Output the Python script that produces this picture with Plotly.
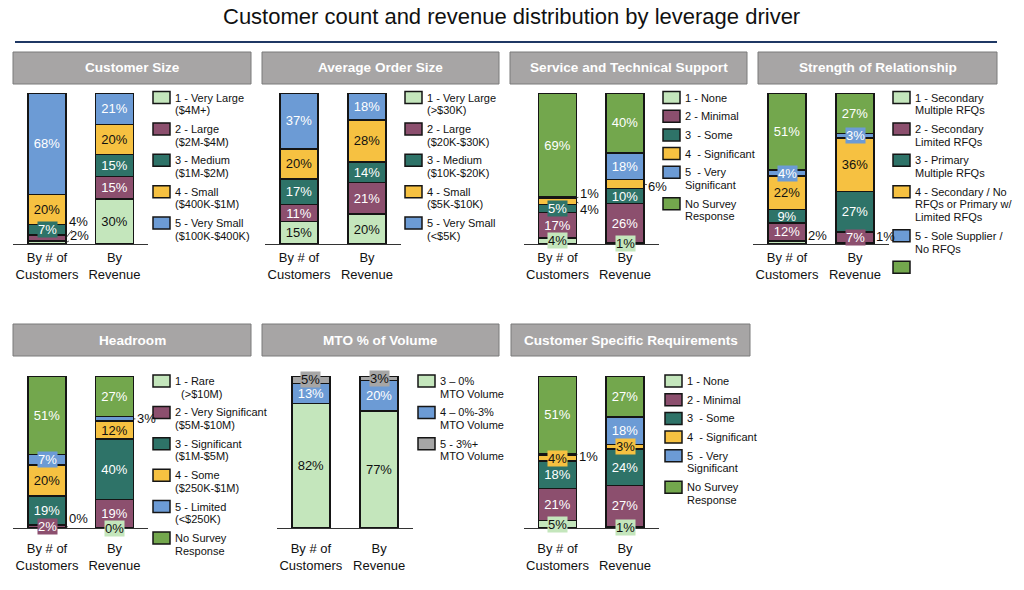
import plotly.graph_objects as go

# ---- data ----
bar_names = ["By # of<br>Customers", "By<br>Revenue"]

size_labels = ["1 - Very Large<br>($4M+)", "2 - Large<br>($2M-$4M)", "3 - Medium<br>($1M-$2M)",
               "4 - Small<br>($400K-$1M)", "5 - Very Small<br>($100K-$400K)"]
size_customers = [2, 4, 7, 20, 68]
size_revenue = [30, 15, 15, 20, 21]

order_labels = ["1 - Very Large<br>(&gt;$30K)", "2 - Large<br>($20K-$30K)", "3 - Medium<br>($10K-$20K)",
                "4 - Small<br>($5K-$10K)", "5 - Very Small<br>(&lt;$5K)"]
order_customers = [15, 11, 17, 20, 37]
order_revenue = [20, 21, 14, 28, 18]

service_labels = ["1 - None", "2 - Minimal", "3 \u00a0- Some", "4 \u00a0- Significant",
                  "5 \u00a0- Very<br>Significant", "No Survey<br>Response"]
service_customers = [4, 17, 5, 4, 1, 69]
service_revenue = [1, 26, 10, 6, 18, 40]

relation_labels = ["1 - Secondary<br>Multiple RFQs", "2 - Secondary<br>Limited RFQs",
                   "3 - Primary<br>Multiple RFQs", "4 - Secondary / No<br>RFQs or Primary w/<br>Limited RFQs",
                   "5 - Sole Supplier /<br>No RFQs", ""]
relation_customers = [2, 12, 9, 22, 4, 51]
relation_revenue = [1, 7, 27, 36, 3, 27]

headroom_labels = ["1 - Rare<br>\u00a0\u00a0(&gt;$10M)", "2 - Very Significant<br>($5M-$10M)",
                   "3 - Significant<br>($1M-$5M)", "4 - Some<br>($250K-$1M)",
                   "5 - Limited<br>(&lt;$250K)", "No Survey<br>Response"]
headroom_customers = [0, 2, 19, 20, 7, 51]
headroom_revenue = [0, 19, 40, 12, 3, 27]

mto_labels = ["3 \u2013 0%<br>MTO Volume", "4 \u2013 0%-3%<br>MTO Volume", "5 - 3%+<br>MTO Volume"]
mto_customers = [82, 13, 5]
mto_revenue = [77, 20, 3]

csr_labels = ["1 - None", "2 - Minimal", "3 \u00a0- Some", "4 \u00a0- Significant",
              "5 \u00a0- Very<br>Significant", "No Survey<br>Response"]
csr_customers = [5, 21, 18, 4, 1, 51]
csr_revenue = [1, 27, 24, 3, 18, 27]

# ---- style ----
W, H = 1024, 590
OFF = 8  # page body margin in the browser
FONT = "Arial, Liberation Sans, sans-serif"
LG, PU, TE, YE, BL, GR, GY = "#C4E6BC", "#8C4F6E", "#2E7368", "#F6C141", "#6C9BD5", "#73A74D", "#A6A6A6"
DARK_TEXT = {LG, YE, GY}
six = [LG, PU, TE, YE, BL, GR]

rows = [dict(head=(52, 84), bars=(93, 244), leg=97.5, tick=1),
        dict(head=(324, 356), bars=(376, 528), leg=381, tick=8)]

panels = [
    dict(title="Customer Size", labels=size_labels, cust=size_customers, rev=size_revenue,
         colors=six[:5], row=0, dom=(13.25, 148.25), head=(13, 251), leg=153),
    dict(title="Average Order Size", labels=order_labels, cust=order_customers, rev=order_revenue,
         colors=six[:5], row=0, dom=(265, 401), head=(262, 499), leg=405),
    dict(title="Service and Technical Support", labels=service_labels, cust=service_customers,
         rev=service_revenue, colors=six, row=0, dom=(523.75, 658.75), head=(510, 747), leg=663),
    dict(title="Strength of Relationship", labels=relation_labels, cust=relation_customers,
         rev=relation_revenue, colors=six, row=0, dom=(753, 889), head=(758, 997), leg=893),
    dict(title="Headroom", labels=headroom_labels, cust=headroom_customers, rev=headroom_revenue,
         colors=six, row=1, dom=(13.25, 148.25), head=(13, 251), leg=153),
    dict(title="MTO % of Volume", labels=mto_labels, cust=mto_customers, rev=mto_revenue,
         colors=[LG, BL, GY], row=1, dom=(276.75, 413.25), head=(262, 499), leg=418),
    dict(title="Customer Specific Requirements", labels=csr_labels, cust=csr_customers,
         rev=csr_revenue, colors=six, row=1, dom=(523.75, 658.75), head=(511, 750), leg=665),
]

# small segments: boxed label or label outside with a leader (pixel offsets)
special = {
    (1, 0, 0): (14, -7), (1, 0, 1): (13, -17), (1, 0, 2): "box",
    (3, 0, 0): "box", (3, 0, 2): "box", (3, 0, 3): (13, 8), (3, 0, 4): (13, -4),
    (3, 1, 0): "box", (3, 1, 3): (14, 2),
    (4, 0, 0): (11, -7), (4, 0, 4): "box", (4, 1, 0): (11, -7), (4, 1, 1): "box", (4, 1, 4): "box",
    (5, 0, 0): (13, -10), (5, 0, 1): "box", (5, 0, 4): "box", (5, 1, 0): "box", (5, 1, 4): (13, 0),
    (6, 0, 2): "box", (6, 1, 2): "box",
    (7, 0, 0): "box", (7, 0, 3): "box", (7, 0, 4): (12, 2), (7, 1, 0): "box", (7, 1, 3): "box",
}

fig = go.Figure()
shapes, annos = [], []


def px(x):
    return (x - OFF) / W


def py(y):
    return 1 - (y - OFF) / H


for k, p in enumerate(panels, start=1):
    xa, ya = f"x{k}", f"y{k}"
    r = rows[p["row"]]
    top, bot = r["bars"]
    fig.update_layout({
        f"xaxis{k}": dict(domain=[px(p["dom"][0]), px(p["dom"][1])], anchor=ya, type="category",
                          range=[-0.5, 1.5], showline=True, linecolor="#333333", linewidth=1,
                          ticks="outside", ticklen=r["tick"], tickcolor="rgba(0,0,0,0)", showgrid=False,
                          zeroline=False, fixedrange=True,
                          tickfont=dict(family=FONT, size=13, color="#111111")),
        f"yaxis{k}": dict(domain=[py(bot), py(top)], anchor=xa, range=[0, 100], visible=False,
                          fixedrange=True),
    })
    vals = [p["cust"], p["rev"]]
    totals = [sum(v) for v in vals]
    for j, lab in enumerate(p["labels"]):
        col = p["colors"][j]
        tcol = "#111111" if col in DARK_TEXT else "white"
        ys = [vals[0][j], vals[1][j]]
        texts = ["" if (k, b, j) in special else f"{ys[b]}%" for b in (0, 1)]
        fig.add_trace(go.Bar(
            x=bar_names, y=ys, xaxis=xa, yaxis=ya, width=0.56, showlegend=False,
            marker=dict(color=col, line=dict(color="#151515", width=1.5)),
            text=texts, texttemplate="%{text}", textposition="inside", insidetextanchor="middle",
            textangle=0, textfont=dict(family=FONT, size=13, color=tcol), cliponaxis=False,
            hoverinfo="skip"))
        for b in (0, 1):
            spec = special.get((k, b, j))
            if spec is None:
                continue
            mid = (sum(vals[b][:j]) + ys[b] / 2) / totals[b] * 100
            if spec == "box":
                annos.append(dict(x=b, y=mid, xref=xa, yref=ya, text=f"{ys[b]}%", showarrow=False,
                                  bgcolor=col, borderpad=0, xanchor="center", yanchor="middle",
                                  font=dict(family=FONT, size=13, color=tcol)))
            else:
                annos.append(dict(x=b + 0.28, y=mid, xref=xa, yref=ya, text=f"{ys[b]}%",
                                  showarrow=True, arrowhead=0, arrowwidth=0.8, arrowcolor="#222222",
                                  ax=spec[0], ay=spec[1], standoff=0, startstandoff=0,
                                  font=dict(family=FONT, size=13, color="#111111")))

    # legend entries
    y = r["leg"]
    for j, lab in enumerate(p["labels"]):
        lines = lab.split("<br>")
        shapes.append(dict(type="rect", xref="paper", yref="paper", x0=px(p["leg"]),
                           x1=px(p["leg"] + 17), y0=py(y + 6), y1=py(y - 6),
                           fillcolor=p["colors"][j], line=dict(color="#151515", width=1.5)))
        for i, line in enumerate(lines):
            if line:
                annos.append(dict(x=px(p["leg"] + 20), y=py(y + i * 12.7), xref="paper", yref="paper",
                                  text=line, showarrow=False, xanchor="left", yanchor="middle",
                                  font=dict(family=FONT, size=11, color="#111111")))
        y += (len(lines) - 1) * 12.7 + 18.7

    # header box
    h0, h1 = r["head"]
    shapes.append(dict(type="rect", xref="paper", yref="paper", x0=px(p["head"][0]), x1=px(p["head"][1]),
                       y0=py(h1), y1=py(h0), fillcolor="#A7A5A5", line=dict(color="#7A7A7A", width=1)))
    annos.append(dict(x=px((p["head"][0] + p["head"][1]) / 2), y=py((h0 + h1) / 2), xref="paper",
                      yref="paper", text=f"<b>{p['title']}</b>", showarrow=False,
                      xanchor="center", yanchor="middle",
                      font=dict(family=FONT, size=13.6, color="white")))

# title and rule
annos.append(dict(x=px(511), y=py(17), xref="paper", yref="paper", showarrow=False,
                  xanchor="center", yanchor="middle",
                  text="Customer count and revenue distribution by leverage driver",
                  font=dict(family=FONT, size=22, color="#111111")))
shapes.append(dict(type="line", xref="paper", yref="paper", x0=px(15), x1=px(997), y0=py(42), y1=py(42),
                   line=dict(color="#1F3864", width=2)))

fig.update_layout(width=W, height=H, margin=dict(l=0, r=0, t=0, b=0), barmode="stack",
                  barnorm="percent", plot_bgcolor="white", paper_bgcolor="white",
                  uniformtext=dict(minsize=13, mode="show"), shapes=shapes, annotations=annos,
                  font=dict(family=FONT))
fig.write_html("out.html")
